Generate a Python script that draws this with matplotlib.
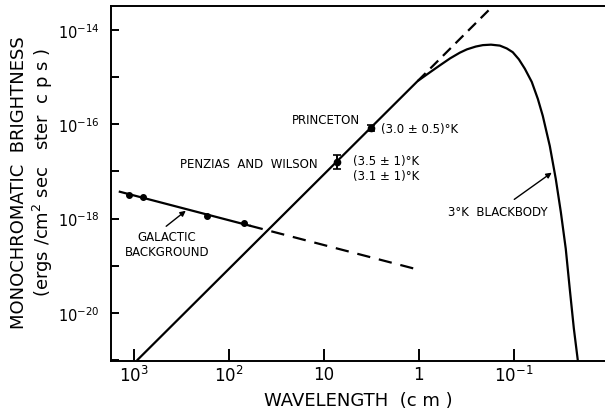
import numpy as np
import matplotlib
matplotlib.use('Agg')
import matplotlib.pyplot as plt

plt.rcParams['font.family'] = ['DejaVu Sans']
plt.rcParams['mathtext.fontset'] = 'dejavusans'

# ---- data (log10 values) ----
# 3 K blackbody curve (solid)
bb_log_wl = [2.968, 0.011, -0.115, -0.221, -0.330, -0.432, -0.506, -0.600,
             -0.674, -0.760, -0.853, -0.926, -0.989, -1.053, -1.116, -1.189,
             -1.253, -1.305, -1.379, -1.442, -1.495, -1.547, -1.589, -1.632, -1.674]
bb_log_b = [-21.01, -15.08, -14.90, -14.75, -14.60, -14.48, -14.41, -14.35,
            -14.32, -14.31, -14.33, -14.39, -14.47, -14.62, -14.82, -15.10,
            -15.46, -15.82, -16.46, -17.16, -17.86, -18.64, -19.49, -20.33, -21.01]
# Rayleigh-Jeans extension (dashed)
rj_log_wl = [0.011, -0.85]
rj_log_b = [-15.08, -13.35]
# Galactic background: solid and dashed parts
gal_solid_log_wl = [3.147, 1.779]
gal_solid_log_b = [-17.43, -18.15]
gal_dash_log_wl = [1.779, 0.011]
gal_dash_log_b = [-18.15, -19.08]
gal_pts_log_wl = [3.053, 2.905, 2.232, 1.842]
gal_pts_log_b = [-17.50, -17.55, -17.94, -18.10]
# measurements
meas_wl = [7.35, 3.2]
meas_log_b = [-16.80, -16.07]
meas_err_dex = [0.14, 0.065]

x_ticks = [1e3, 1e2, 1e1, 1e0, 1e-1]
x_ticklabels = [r'$10^{3}$', r'$10^{2}$', '10', '1', r'$10^{-1}$']
y_tick_exps = list(range(-21, -13))
y_labelled = {-14: r'$10^{-14}$', -16: r'$10^{-16}$', -18: r'$10^{-18}$', -20: r'$10^{-20}$'}

fig = plt.figure(figsize=(6.05, 4.10), dpi=100)
ax = fig.add_axes([111/605, 1 - 362/410, 1 - 111/605, (362 - 7)/410])
ax.set_xscale('log')
ax.set_yscale('log')
ax.set_xlim(10**3.24, 10**-1.96)
ax.set_ylim(10**-21.02, 10**-13.49)

p = lambda a: 10**np.asarray(a)
lw = 1.6
ax.plot(p(bb_log_wl), p(bb_log_b), color='black', lw=lw, solid_capstyle='butt')
ax.plot(p(rj_log_wl), p(rj_log_b), color='black', lw=lw, dashes=(5, 3))
ax.plot(p(gal_solid_log_wl), p(gal_solid_log_b), color='black', lw=lw)
ax.plot(p(gal_dash_log_wl), p(gal_dash_log_b), color='black', lw=lw, dashes=(6, 4))
ax.plot(p(gal_pts_log_wl), p(gal_pts_log_b), 'o', color='black', ms=4)

mb = p(meas_log_b)
e = np.asarray(meas_err_dex)
yerr = [mb - mb * 10**(-e), mb * 10**e - mb]
ax.errorbar(meas_wl, mb, yerr=yerr, fmt='o', color='black', ms=4.5,
            capsize=3, elinewidth=1.4, capthick=1.2)

# ticks
ax.set_xticks(x_ticks)
ax.set_xticklabels(x_ticklabels, fontsize=12)
ax.set_yticks([10.0**k for k in y_tick_exps])
ax.set_yticklabels([y_labelled.get(k, '') for k in y_tick_exps], fontsize=10.5)
ax.minorticks_off()
ax.tick_params(axis='x', direction='in', length=9, width=1.4, pad=3)
ax.tick_params(axis='y', direction='in', length=6, width=1.4, pad=8)
for s in ['left', 'bottom', 'top']:
    ax.spines[s].set_linewidth(1.4)
ax.spines['right'].set_visible(False)

ax.set_xlabel('WAVELENGTH  (c m )', fontsize=13, labelpad=4)
fig.text(19/605, 1 - 183/410, 'MONOCHROMATIC  BRIGHTNESS', rotation=90,
         fontsize=13, ha='center', va='center')
fig.text(43/605, 1 - 172/410, r'(ergs /cm$^2$ sec   ster  c p s )', rotation=90,
         fontsize=13, ha='center', va='center')

def px(x, y):
    return (x / 605, 1 - y / 410)

fs = 8.5
fig.text(*px(292, 120), 'PRINCETON', fontsize=fs, ha='left', va='center')
fig.text(*px(381, 130), '(3.0 ± 0.5)°K', fontsize=fs, ha='left', va='center')
fig.text(*px(180, 164), 'PENZIAS  AND  WILSON', fontsize=fs, ha='left', va='center')
fig.text(*px(353, 162), '(3.5 ± 1)°K', fontsize=fs, ha='left', va='center')
fig.text(*px(353, 177), '(3.1 ± 1)°K', fontsize=fs, ha='left', va='center')
fig.text(*px(167, 238), 'GALACTIC', fontsize=fs, ha='center', va='center')
fig.text(*px(167, 253), 'BACKGROUND', fontsize=fs, ha='center', va='center')
fig.text(*px(448, 213), '3°K  BLACKBODY', fontsize=fs, ha='left', va='center')

ax.annotate('', xy=px(188, 210), xytext=px(164, 229), xycoords='figure fraction',
            textcoords='figure fraction',
            arrowprops=dict(arrowstyle='-|>', color='black', lw=1.0, mutation_scale=8))
ax.annotate('', xy=px(554, 172), xytext=px(512, 202), xycoords='figure fraction',
            textcoords='figure fraction',
            arrowprops=dict(arrowstyle='-|>', color='black', lw=1.0, mutation_scale=8))

fig.savefig('out.png', dpi=100)
